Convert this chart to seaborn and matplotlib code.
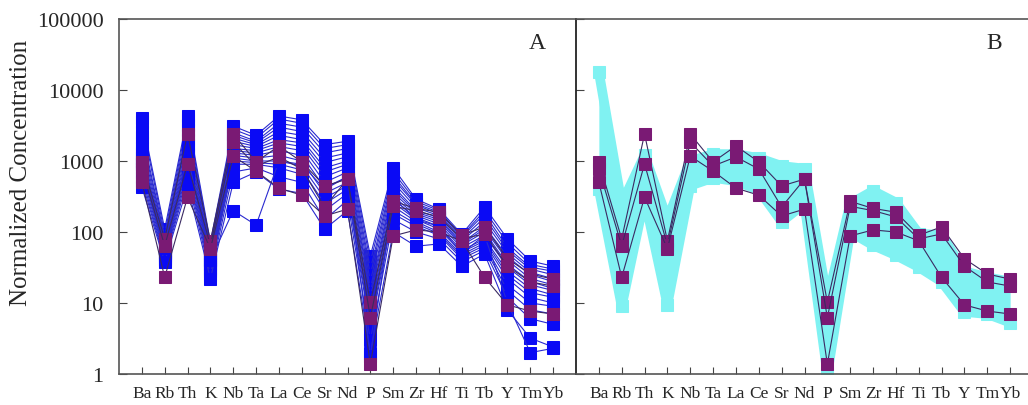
"""
Spider diagram: panel A (blue samples + purple samples), panel B (cyan field + purple samples)
"""
import numpy as np
import pandas as pd
import matplotlib
matplotlib.use('Agg')
import matplotlib.pyplot as plt
import seaborn as sns

elements = ['Ba', 'Rb', 'Th', 'K', 'Nb', 'Ta', 'La', 'Ce', 'Sr', 'Nd',
            'P', 'Sm', 'Zr', 'Hf', 'Ti', 'Tb', 'Y', 'Tm', 'Yb']

# panel A, blue samples
blue_01 = [4000, 110, 4300, 72, 3100, 2300, 4300, 3800, 1700, 1900, 46, 800, 290, 210, 93, 225, 80, 39, 33]
blue_02 = [3500, 95, 3800, 65, 2800, 2100, 3900, 3400, 1500, 1700, 38, 700, 270, 200, 88, 200, 70, 35, 30]
blue_03 = [2600, 85, 3200, 60, 2500, 1900, 3400, 3000, 1300, 1500, 30, 620, 250, 190, 85, 180, 60, 32, 28]
blue_04 = [2200, 80, 2700, 55, 2300, 1800, 3000, 2600, 1100, 1300, 25, 560, 240, 180, 80, 160, 55, 30, 25]
blue_05 = [1800, 75, 2300, 50, 2100, 1700, 2600, 2300, 950, 1150, 20, 500, 220, 170, 75, 140, 50, 27, 22]
blue_06 = [1500, 70, 2000, 48, 1900, 1600, 2300, 2000, 800, 1000, 16, 440, 200, 160, 70, 120, 45, 25, 20]
blue_07 = [1300, 65, 1700, 45, 1700, 1500, 2000, 1800, 700, 900, 14, 400, 190, 150, 68, 110, 40, 22, 18]
blue_08 = [1200, 60, 1500, 42, 1500, 1400, 1800, 1600, 600, 800, 12, 360, 180, 140, 65, 100, 35, 20, 16]
blue_09 = [1100, 55, 1300, 40, 1400, 1300, 1600, 1400, 500, 700, 10, 320, 170, 130, 60, 90, 32, 18, 15]
blue_10 = [1000, 52, 1100, 38, 1300, 1200, 1400, 1200, 420, 600, 8, 290, 160, 120, 55, 80, 28, 16, 13]
blue_11 = [900, 50, 950, 35, 1200, 1100, 1200, 1000, 350, 500, 7, 260, 150, 110, 52, 75, 25, 14, 12]
blue_12 = [800, 48, 850, 32, 1100, 1000, 1000, 850, 300, 450, 6, 230, 140, 100, 48, 70, 22, 12, 10]
blue_13 = [700, 45, 750, 30, 1000, 950, 900, 750, 250, 400, 5, 200, 130, 95, 45, 65, 18, 10, 9]
blue_14 = [600, 42, 650, 28, 900, 900, 800, 650, 200, 350, 4.3, 180, 120, 90, 42, 60, 15, 8, 7]
blue_15 = [520, 40, 550, 25, 700, 800, 600, 500, 150, 280, 3, 150, 100, 80, 38, 55, 12, 6, 5]
blue_16 = [430, 38, 440, 22, 500, 700, 400, 350, 110, 200, 2, 100, 63, 68, 33, 49, 8, 3.2, 2.4]
blue_17 = [900, 60, 1200, 40, 200, 125, 1000, 900, 400, 600, 1.8, 300, 150, 120, 50, 90, 10, 2.0, 2.3]

# purple samples (same in both panels)
purple_1 = [970, 80, 2400, 75, 2400, 970, 1630, 970, 445, 555, 10.3, 270, 215, 190, 90, 118, 42, 25.6, 21.7]
purple_2 = [770, 64, 910, 65, 1840, 850, 1140, 770, 225, 555, 6.2, 230, 200, 163, 80, 94, 33, 19.8, 17.3]
purple_3 = [505, 23, 310, 58, 1170, 720, 415, 330, 168, 210, 1.38, 88, 107, 100, 75, 23, 9.4, 7.7, 7.0]

# panel B, cyan reference field (lower / upper bound)
field_low = [400, 9, 300, 9.5, 450, 580, 520, 390, 140, 250, 1.0, 100, 65, 47, 32, 20, 7.5, 7, 5.3]
field_high = [18000, 250, 1200, 150, 1000, 1250, 1250, 1100, 850, 780, 11, 250, 380, 260, 95, 90, 28, 23, 20]

BLUE = '#0a0af5'
BLUE_LINE = '#2a2ad0'
PURPLE = '#7a1a74'
PURPLE_LINE = '#3a2a62'
CYAN = '#80f2f2'

sns.set_style('ticks')
plt.rcParams['font.family'] = ['Liberation Serif', 'DejaVu Serif']


def to_long(samples):
    rows = []
    for i, vals in enumerate(samples):
        for j, v in enumerate(vals):
            rows.append({'sample': i, 'pos': j, 'value': v})
    return pd.DataFrame(rows)


def draw_lines(ax, samples, line_color, marker_color, lw=0.8, ms=8):
    df = to_long(samples)
    sns.lineplot(data=df, x='pos', y='value', units='sample', estimator=None,
                 sort=False, color=line_color, lw=lw, marker='s', markersize=ms,
                 markerfacecolor=marker_color, markeredgecolor=marker_color,
                 legend=False, ax=ax)


def style_axes(ax, label, show_ylabels):
    ax.set_yscale('log')
    ax.set_ylim(1, 100000)
    ax.set_xlim(-1, 19)
    ax.set_yticks([1, 10, 100, 1000, 10000, 100000])
    ax.minorticks_off()
    ax.set_xticks(range(len(elements)))
    ax.set_xticklabels(elements, fontsize=12.5)
    ax.tick_params(axis='x', direction='in', length=5, pad=8, color='#444')
    ax.tick_params(axis='y', direction='in', length=6, pad=11, color='#444',
                   labelsize=16)
    if show_ylabels:
        ax.set_yticklabels(['1', '10', '100', '1000', '10000', '100000'])
    else:
        ax.set_yticklabels([])
    ax.set_xlabel('')
    ax.set_ylabel('')
    for side in ['top', 'bottom', 'left']:
        ax.spines[side].set_color('#555')
        ax.spines[side].set_linewidth(1.2)
    ax.text(0.915, 0.935, label, transform=ax.transAxes, fontsize=17,
            ha='center', va='center')


fig = plt.figure(figsize=(10.28, 4.06), dpi=100)
bottom = 31 / 406
height = 355 / 406
axA = fig.add_axes([119 / 1028, bottom, 457 / 1028, height])
axB = fig.add_axes([576 / 1028, bottom, 457 / 1028, height])

# panel A
draw_lines(axA, [blue_01, blue_02, blue_03, blue_04, blue_05, blue_06, blue_07,
                 blue_08, blue_09, blue_10, blue_11, blue_12, blue_13, blue_14,
                 blue_15, blue_16, blue_17], BLUE_LINE, BLUE)
draw_lines(axA, [purple_1, purple_2, purple_3], PURPLE_LINE, PURPLE)
style_axes(axA, 'A', True)
axA.spines['right'].set_visible(False)
axA.set_ylabel('Normalized Concentration', fontsize=18)
axA.yaxis.set_label_coords(-0.19, 0.57)

# panel B: cyan field drawn as a band with thick edges
pos = np.arange(len(elements))
axB.fill_between(pos, field_low, field_high, color=CYAN, lw=0)
draw_lines(axB, [field_low, field_high], CYAN, CYAN, lw=7, ms=9)
draw_lines(axB, [purple_1, purple_2, purple_3], PURPLE_LINE, PURPLE)
style_axes(axB, 'B', False)
axB.spines['left'].set_color('#111')
axB.spines['right'].set_visible(False)

fig.savefig('out.png', dpi=100)
plt.close(fig)
